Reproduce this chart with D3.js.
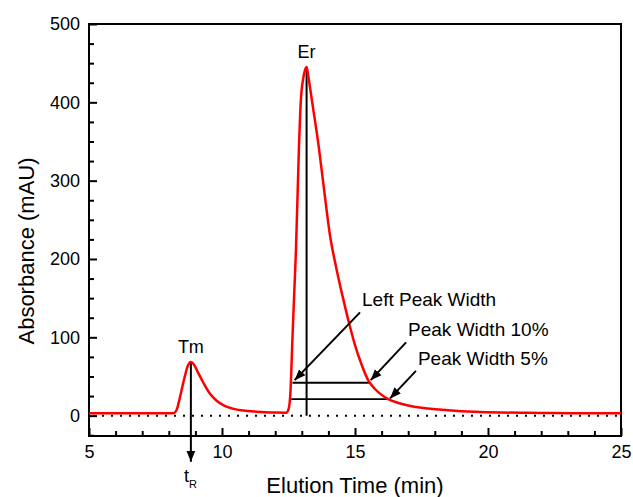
<!DOCTYPE html>
<html>
<head>
<meta charset="utf-8">
<script src="https://cdn.jsdelivr.net/npm/d3@7"></script>
<style>
  body { margin: 0; background: #fff; }
  text { font-family: "Liberation Sans", Arial, sans-serif; fill: #000; }
</style>
</head>
<body>
<div id="chart"></div>
<script>
// chromatogram
var elutionTime = [5, 8.0, 8.2, 8.3, 8.45, 8.6, 8.72, 8.83, 8.95, 9.1, 9.3, 9.55, 9.8, 10.1, 10.4, 10.8, 11.3, 12.0, 12.42,
  12.5, 12.57, 12.65, 12.72, 12.78, 12.89, 12.96, 13.05, 13.12, 13.18, 13.25, 13.4, 13.65, 13.85, 14.06, 14.3, 14.55, 14.8, 15.0,
  15.25, 15.5, 15.75, 16.0, 16.25, 16.6, 17.0, 17.5, 18.5, 19.5, 20.5, 22, 23.5, 25];
var absorbance = [3, 3, 3.5, 8, 28, 50, 64, 68.5, 65, 55, 42, 28, 19, 12.5, 9, 6.5, 5, 4, 3.8,
  8, 28, 100, 160, 211, 339, 400, 430, 441, 445, 432, 398, 340, 285, 230, 188, 150, 115, 90,
  65, 45, 34, 26.5, 21, 16.5, 13, 10, 7, 5, 4, 3.5, 3, 3];

var xTicks = [5, 10, 15, 20, 25];
var yTicks = [0, 100, 200, 300, 400, 500];

// annotations
var peakNames = ["Tm", "Er"];
var peakTimes = [8.83, 13.18];
var peakHeights = [68.5, 445];
var widthLevels = [42, 21];          // 10% and 5% lines
var widthStarts = [12.65, 12.6];
var widthEnds = [15.55, 16.25];
var noteLabels = ["Left Peak Width", "Peak Width 10%", "Peak Width 5%"];
var noteTail = [[15.19, 131.8], [16.92, 93.5], [17.29, 57.2]];
var noteTip = [[12.73, 45.3], [15.59, 45.3], [16.32, 22]];

var width = 633, height = 497;
var plot = { left: 89, right: 621, top: 24, bottom: 436 };

var svg = d3.select("#chart").append("svg")
  .attr("width", width)
  .attr("height", height);

var x = d3.scaleLinear().domain([5, 25]).range([plot.left, plot.right]);
var y = d3.scaleLinear().domain([-26, 500]).range([plot.bottom, plot.top]);

svg.append("defs").append("marker")
  .attr("id", "head")
  .attr("viewBox", "0 0 10 10")
  .attr("refX", 10).attr("refY", 5)
  .attr("markerWidth", 11).attr("markerHeight", 11)
  .attr("markerUnits", "userSpaceOnUse")
  .attr("orient", "auto")
  .append("path")
  .attr("d", "M0,1L10,5L0,9Z")
  .attr("fill", "#000");

// zero line
svg.append("line")
  .attr("x1", x(5) + 4).attr("x2", x(25))
  .attr("y1", y(0)).attr("y2", y(0))
  .attr("stroke", "#000")
  .attr("stroke-width", 2)
  .attr("stroke-dasharray", "2,7");

// axes, ticks pointing inward
svg.append("g").attr("transform", "translate(0," + plot.bottom + ")")
  .call(d3.axisBottom(x).tickValues(xTicks).tickSize(-8).tickSizeOuter(0).tickPadding(9));
svg.append("g").attr("transform", "translate(0," + plot.bottom + ")")
  .call(d3.axisBottom(x).tickValues(d3.range(6, 25).filter(function(d) { return d % 5; }))
    .tickSize(-5).tickSizeOuter(0).tickFormat(""));
svg.append("g").attr("transform", "translate(" + plot.left + ",0)")
  .call(d3.axisLeft(y).tickValues(yTicks).tickSize(-8).tickSizeOuter(0).tickPadding(9));
svg.append("g").attr("transform", "translate(" + plot.left + ",0)")
  .call(d3.axisLeft(y).tickValues(d3.range(-25, 500, 25).filter(function(d) { return d % 100; }))
    .tickSize(-5).tickSizeOuter(0).tickFormat(""));

svg.selectAll(".domain").remove();
svg.selectAll(".tick line").attr("stroke", "#000").attr("stroke-width", 2);
svg.selectAll(".tick text").style("font-size", "18px").style("font-family", "Liberation Sans, Arial, sans-serif").attr("fill", "#000");

svg.append("rect")
  .attr("x", plot.left).attr("y", plot.top)
  .attr("width", plot.right - plot.left).attr("height", plot.bottom - plot.top)
  .attr("fill", "none")
  .attr("stroke", "#000")
  .attr("stroke-width", 2);

// width lines
svg.selectAll(".wline").data(widthLevels).enter().append("line")
  .attr("class", "wline")
  .attr("x1", function(d, i) { return x(widthStarts[i]); })
  .attr("x2", function(d, i) { return x(widthEnds[i]); })
  .attr("y1", function(d) { return y(d); })
  .attr("y2", function(d) { return y(d); })
  .attr("stroke", "#000")
  .attr("stroke-width", 1.8);

// peak verticals
svg.append("line")
  .attr("x1", x(peakTimes[1])).attr("x2", x(peakTimes[1]))
  .attr("y1", y(peakHeights[1])).attr("y2", y(0))
  .attr("stroke", "#000").attr("stroke-width", 2);
svg.append("line")
  .attr("x1", x(peakTimes[0])).attr("x2", x(peakTimes[0]))
  .attr("y1", y(peakHeights[0])).attr("y2", y(-59))
  .attr("stroke", "#000").attr("stroke-width", 2)
  .attr("marker-end", "url(#head)");

// curve
var line = d3.line()
  .x(function(d, i) { return x(elutionTime[i]); })
  .y(function(d) { return y(d); })
  .curve(d3.curveMonotoneX);

svg.append("path")
  .datum(absorbance)
  .attr("d", line)
  .attr("fill", "none")
  .attr("stroke", "#ff0000")
  .attr("stroke-width", 2.5);

// annotation arrows
svg.selectAll(".arrow").data(noteLabels).enter().append("line")
  .attr("class", "arrow")
  .attr("x1", function(d, i) { return x(noteTail[i][0]); })
  .attr("y1", function(d, i) { return y(noteTail[i][1]); })
  .attr("x2", function(d, i) { return x(noteTip[i][0]); })
  .attr("y2", function(d, i) { return y(noteTip[i][1]); })
  .attr("stroke", "#000")
  .attr("stroke-width", 2)
  .attr("marker-end", "url(#head)");

svg.selectAll(".note").data(noteLabels).enter().append("text")
  .attr("class", "note")
  .attr("x", function(d, i) { return x(noteTail[i][0]) + 2; })
  .attr("y", function(d, i) { return y(noteTail[i][1]) - 6; })
  .style("font-size", "19px")
  .text(function(d) { return d; });

svg.selectAll(".peak").data(peakNames).enter().append("text")
  .attr("class", "peak")
  .attr("x", function(d, i) { return x(peakTimes[i]); })
  .attr("y", function(d, i) { return y(peakHeights[i]) - 9; })
  .attr("text-anchor", "middle")
  .style("font-size", "18px")
  .text(function(d) { return d; });

var tr = svg.append("text")
  .attr("x", x(peakTimes[0]) - 7)
  .attr("y", 482)
  .style("font-size", "18px")
  .text("t");
tr.append("tspan").attr("dy", 6).style("font-size", "11px").text("R");

// axis titles
svg.append("text")
  .attr("x", (plot.left + plot.right) / 2)
  .attr("y", 493)
  .attr("text-anchor", "middle")
  .style("font-size", "22px")
  .text("Elution Time (min)");

svg.append("text")
  .attr("transform", "translate(34," + ((plot.top + plot.bottom) / 2 + 21) + ") rotate(-90)")
  .attr("text-anchor", "middle")
  .style("font-size", "22px")
  .text("Absorbance (mAU)");
</script>
</body>
</html>
